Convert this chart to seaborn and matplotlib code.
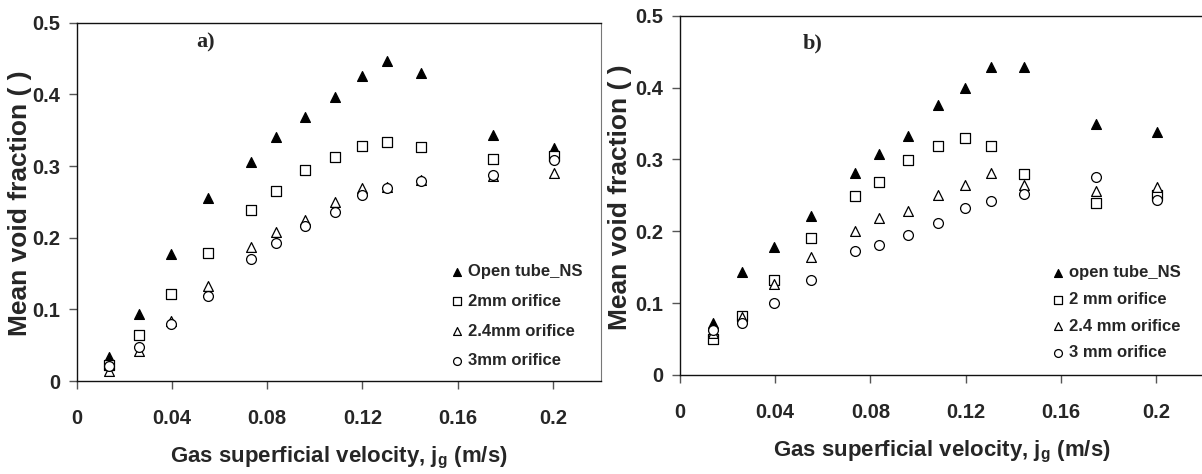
import numpy as np
import pandas as pd
import matplotlib
matplotlib.use("Agg")
import matplotlib.pyplot as plt
import seaborn as sns

# Gas superficial velocity (m/s), same for both panels
jg = [0.0137, 0.026, 0.0394, 0.0551, 0.0734, 0.0835, 0.0959, 0.1084,
      0.1198, 0.1304, 0.1444, 0.1746, 0.2005]

# Panel a)
open_a = [0.034, 0.094, 0.177, 0.256, 0.305, 0.341, 0.368, 0.397, 0.426, 0.446, 0.430, 0.343, 0.325]
o2_a = [0.022, 0.064, 0.121, 0.179, 0.238, 0.265, 0.294, 0.313, 0.328, 0.333, 0.326, 0.310, 0.314]
o24_a = [0.014, 0.042, 0.084, 0.133, 0.187, 0.208, 0.225, 0.250, 0.270, 0.271, 0.280, 0.286, 0.290]
o3_a = [0.021, 0.048, 0.080, 0.119, 0.170, 0.192, 0.216, 0.236, 0.260, 0.270, 0.279, 0.288, 0.308]
labels_a = ["Open tube_NS", "2mm orifice", "2.4mm orifice", "3mm orifice"]

# Panel b)
open_b = [0.072, 0.144, 0.178, 0.221, 0.281, 0.308, 0.332, 0.376, 0.400, 0.429, 0.429, 0.349, 0.338]
o2_b = [0.050, 0.082, 0.132, 0.190, 0.249, 0.269, 0.299, 0.319, 0.330, 0.319, 0.280, 0.240, 0.250]
o24_b = [0.058, 0.081, 0.127, 0.164, 0.201, 0.218, 0.228, 0.251, 0.265, 0.281, 0.265, 0.256, 0.262]
o3_b = [0.062, 0.072, 0.100, 0.132, 0.173, 0.181, 0.195, 0.211, 0.233, 0.242, 0.252, 0.275, 0.243]
labels_b = ["open tube_NS", "2 mm orifice", "2.4 mm orifice", "3 mm orifice"]

x_ticks = [0, 0.04, 0.08, 0.12, 0.16, 0.2]
x_ticklabels = ["0", "0.04", "0.08", "0.12", "0.16", "0.2"]
y_ticks = [0, 0.1, 0.2, 0.3, 0.4, 0.5]
y_ticklabels = ["0", "0.1", "0.2", "0.3", "0.4", "0.5"]

sns.set_style("white")
plt.rcParams["font.family"] = ["Liberation Sans", "DejaVu Sans"]
plt.rcParams["font.weight"] = "bold"
plt.rcParams["mathtext.fontset"] = "custom"
plt.rcParams["mathtext.rm"] = "Liberation Sans:bold"

fig = plt.figure(figsize=(12.02, 4.74), dpi=100)
ax_a = fig.add_axes([0.0638, 0.1962, 0.4359, 0.7559])
ax_b = fig.add_axes([0.5657, 0.2089, 0.4359, 0.758])

styles = [
    dict(marker="^", facecolor="black"),
    dict(marker="s", facecolor="white"),
    dict(marker="^", facecolor="white"),
    dict(marker="o", facecolor="white"),
]


def draw_panel(ax, series, labels, tag, tag_xy, leg_anchor, leg_spacing):
    for vals, lab, st in zip(series, labels, styles):
        df = pd.DataFrame({"jg": jg, "void": vals})
        sns.scatterplot(data=df, x="jg", y="void", ax=ax, marker=st["marker"],
                        s=50, color="black", facecolor=st["facecolor"],
                        edgecolor="black", linewidth=0.9, label=lab)
    ax.set_xlim(0, 0.22)
    ax.set_ylim(0, 0.5)
    ax.set_xticks(x_ticks)
    ax.set_xticklabels(x_ticklabels, fontsize=14.5, fontweight="bold")
    ax.set_yticks(y_ticks)
    ax.set_yticklabels(y_ticklabels, fontsize=14.5, fontweight="bold")
    ax.tick_params(axis="both", direction="out", length=6, width=1, color="#555555",
                   left=True, bottom=True)
    ax.tick_params(axis="x", pad=14)
    ax.tick_params(axis="y", pad=6)
    for sp in ["left", "bottom", "top"]:
        ax.spines[sp].set_color("#111111")
        ax.spines[sp].set_linewidth(1.0)
    ax.spines["right"].set_color("#777777")
    ax.set_ylabel("")
    ax.set_xlabel(r"Gas superficial velocity, j$_\mathrm{g}$ (m/s)", fontsize=16, fontweight="bold")
    ax.xaxis.set_label_coords(0.5, -0.178)
    ax.xaxis.label.set_va("top")
    ax.text(tag_xy[0], tag_xy[1], tag, family="Liberation Serif", fontweight="bold",
            fontsize=16, ha="left", va="center")
    ax.legend(loc="upper left", bbox_to_anchor=leg_anchor, frameon=False, fontsize=12,
              handlelength=0.7, handletextpad=0.3, labelspacing=leg_spacing,
              borderpad=0, borderaxespad=0, scatterpoints=1, markerscale=0.8)


draw_panel(ax_a, [open_a, o2_a, o24_a, o3_a], labels_a, "a)", (0.05, 0.472), (0.715, 0.326), 0.88)
draw_panel(ax_b, [open_b, o2_b, o24_b, o3_b], labels_b, "b)", (0.0515, 0.462), (0.71, 0.305), 0.7)
ax_b.spines["right"].set_visible(False)

fig.text(32 / 1202, 1 - 203 / 474, "Mean void fraction ( )", rotation=90, ha="right",
         va="center", fontsize=19, fontweight="bold")
fig.text(632 / 1202, 1 - 197 / 474, "Mean void fraction ( )", rotation=90, ha="right",
         va="center", fontsize=19, fontweight="bold")

fig.savefig("out.png", dpi=100)
